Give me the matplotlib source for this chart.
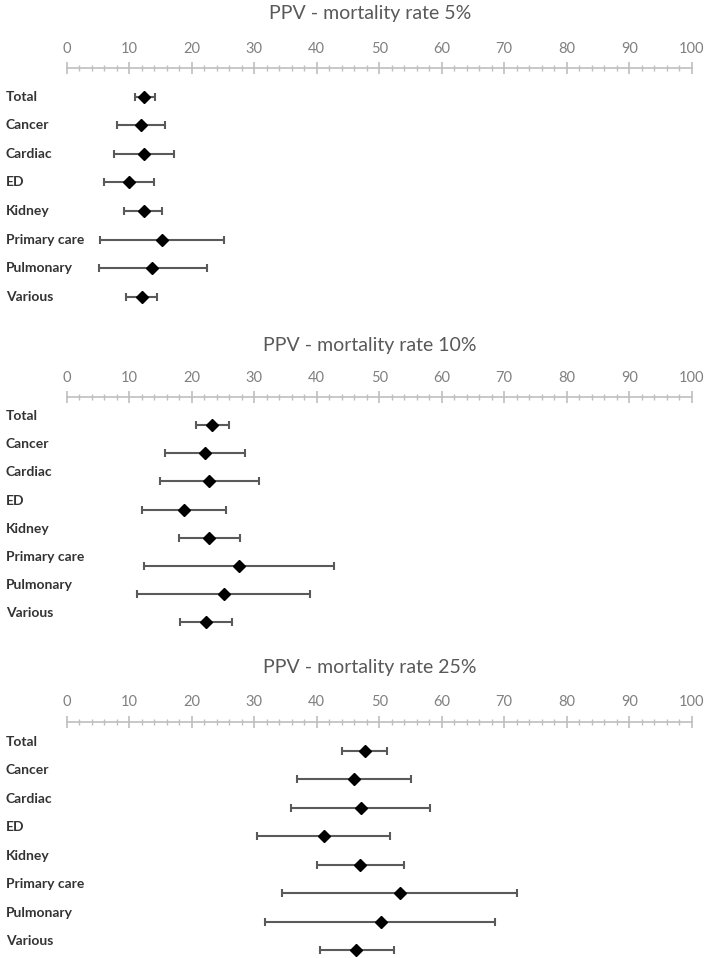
import numpy as np
import matplotlib
matplotlib.use("Agg")
import matplotlib.pyplot as plt
import matplotlib.transforms as mtransforms
from matplotlib.ticker import MultipleLocator

plt.rcParams['font.family'] = ['Lato', 'DejaVu Sans']

# Data
groups = ["Total", "Cancer", "Cardiac", "ED", "Kidney", "Primary care", "Pulmonary", "Various"]
titles = ["PPV - mortality rate 5%", "PPV - mortality rate 10%", "PPV - mortality rate 25%"]

ppv_5 = [12.4, 11.9, 12.3, 10.0, 12.3, 15.3, 13.7, 12.0]
low_5 = [10.9, 8.0, 7.5, 6.0, 9.2, 5.4, 5.1, 9.5]
high_5 = [14.1, 15.7, 17.1, 13.9, 15.3, 25.1, 22.4, 14.5]

ppv_10 = [23.2, 22.1, 22.8, 18.8, 22.8, 27.6, 25.2, 22.3]
low_10 = [20.7, 15.7, 14.9, 12.1, 17.9, 12.4, 11.3, 18.2]
high_10 = [25.9, 28.5, 30.7, 25.5, 27.7, 42.7, 39.0, 26.5]

ppv_25 = [47.8, 46.0, 47.1, 41.1, 47.0, 53.3, 50.3, 46.3]
low_25 = [44.0, 36.9, 35.9, 30.4, 40.0, 34.5, 31.8, 40.6]
high_25 = [51.3, 55.1, 58.1, 51.7, 53.9, 72.0, 68.5, 52.3]

W, H = 707, 958
DPI = 100
fig = plt.figure(figsize=(W / DPI, H / DPI), dpi=DPI)

x0_px, x1_px = 66.7, 691.7

# layout per panel: axis line y, first row y, row step, label shift (px), title y
panels = [
    (titles[0], ppv_5, low_5, high_5, 68.0, 96.5, 28.6, 0.0, 13.5),
    (titles[1], ppv_10, low_10, high_10, 397.3, 425.0, 28.2, -9.0, 346.0),
    (titles[2], ppv_25, low_25, high_25, 721.7, 750.7, 28.5, -9.0, 667.0),
]

axis_col = "#bfbfbf"
text_col = "#595959"
tick_col = "#808080"
bar_col = "#5a5a5a"

for title, ppv, low, high, ax_y, first_y, step, lab_dy, title_y in panels:
    n = len(groups)
    ybot_data = n - 0.8
    bottom_px = first_y + ybot_data * step
    ytop_data = -(first_y - ax_y) / step
    ax = fig.add_axes([x0_px / W, 1 - bottom_px / H,
                       (x1_px - x0_px) / W, (bottom_px - ax_y) / H])
    ax.set_xlim(0, 100)
    ax.set_ylim(ybot_data, ytop_data)
    ax.patch.set_visible(False)
    for s in ["left", "right", "bottom"]:
        ax.spines[s].set_visible(False)
    ax.spines["top"].set_color(axis_col)
    ax.spines["top"].set_linewidth(1.2)
    ax.xaxis.set_ticks_position("top")
    ax.xaxis.set_major_locator(MultipleLocator(10))
    ax.xaxis.set_minor_locator(MultipleLocator(2))
    ax.tick_params(axis="x", which="major", direction="inout", length=9, width=1.2,
                   color=axis_col, labelsize=10.5, labelcolor=tick_col, pad=4.5)
    ax.tick_params(axis="x", which="minor", direction="inout", length=4, width=1.0,
                   color=axis_col)
    ax.set_yticks([])

    y = np.arange(n)
    ppv = np.array(ppv)
    err = [ppv - np.array(low), np.array(high) - ppv]
    ax.errorbar(ppv, y, xerr=err, fmt="none", ecolor=bar_col, elinewidth=1.5,
                capsize=2.6, capthick=1.5, clip_on=False)
    ax.plot(ppv, y, linestyle="none", marker="D", markersize=6.2, color="black",
            clip_on=False, zorder=5)

    trans = mtransforms.blended_transform_factory(fig.transFigure, ax.transData)
    for i, g in enumerate(groups):
        ax.text(6 / W, i + lab_dy / step, g, transform=trans, ha="left", va="center",
                fontsize=10, fontweight="bold", color="#333333")

    fig.text(370 / W, 1 - title_y / H, title, ha="center", va="center",
             fontsize=14, color=text_col)

fig.savefig("out.png", dpi=DPI)
